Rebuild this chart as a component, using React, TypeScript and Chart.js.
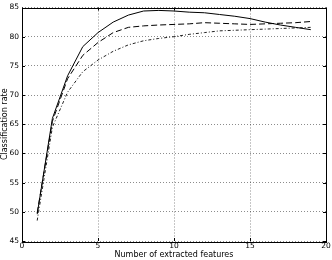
import { useEffect, useRef } from "react";
import { Chart, registerables } from "chart.js";

Chart.register(...registerables);

const features = [1, 2, 3, 4, 5, 6, 7, 8, 9, 10, 11, 12, 13, 14, 15, 16, 17, 18, 19];
const solidRates = [49.6, 66, 73.3, 78.3, 80.7, 82.5, 83.7, 84.4, 84.5, 84.4, 84.2, 84.1, 83.8, 83.5, 83.1, 82.5, 82.0, 81.6, 81.2];
const dashedRates = [49.8, 65.5, 72.8, 76.8, 79.0, 80.7, 81.6, 81.85, 82.0, 82.1, 82.2, 82.4, 82.3, 82.2, 82.1, 82.2, 82.3, 82.4, 82.6];
const dashDotRates = [48.5, 64.5, 70.5, 74, 76, 77.5, 78.6, 79.3, 79.7, 80.0, 80.4, 80.7, 81.0, 81.1, 81.2, 81.3, 81.4, 81.5, 81.6];

const xAxisTitle = "Number of extracted features";
const yAxisTitle = "Classification rate";

const FONT = "'DejaVu Sans', sans-serif";

const framePlugin = {
  id: "frame",
  afterDraw(chart: any) {
    const { ctx, chartArea } = chart;
    const { left, right, top, bottom } = chartArea;
    ctx.save();
    ctx.strokeStyle = "#000";
    ctx.lineWidth = 1;
    ctx.setLineDash([]);
    ctx.strokeRect(Math.round(left) + 0.5, Math.round(top) + 0.5, Math.round(right - left), Math.round(bottom - top));
    const xs = chart.scales.x;
    const ys = chart.scales.y;
    const len = 3;
    ctx.beginPath();
    xs.ticks.forEach((t: any) => {
      const px = Math.round(xs.getPixelForValue(t.value)) + 0.5;
      ctx.moveTo(px, bottom);
      ctx.lineTo(px, bottom - len);
      ctx.moveTo(px, top);
      ctx.lineTo(px, top + len);
    });
    ys.ticks.forEach((t: any) => {
      const py = Math.round(ys.getPixelForValue(t.value)) + 0.5;
      ctx.moveTo(left, py);
      ctx.lineTo(left + len, py);
      ctx.moveTo(right, py);
      ctx.lineTo(right - len, py);
    });
    ctx.stroke();
    ctx.restore();
  },
};

export default function App() {
  const ref = useRef<HTMLCanvasElement | null>(null);

  useEffect(() => {
    if (!ref.current) return;
    const mk = (data: number[]) => features.map((f, i) => ({ x: f, y: data[i] }));
    const chart = new Chart(ref.current, {
      type: "line",
      data: {
        datasets: [
          { data: mk(solidRates), borderColor: "#000", borderWidth: 1, pointRadius: 0, fill: false, tension: 0 },
          { data: mk(dashedRates), borderColor: "#000", borderWidth: 1, borderDash: [6, 3], pointRadius: 0, fill: false, tension: 0 },
          { data: mk(dashDotRates), borderColor: "#222", borderWidth: 1, borderDash: [3, 2, 1, 2], pointRadius: 0, fill: false, tension: 0 },
        ],
      },
      options: {
        animation: false,
        responsive: false,
        maintainAspectRatio: false,
        layout: { padding: { top: 4, right: 6, left: 0, bottom: 0 } },
        plugins: { legend: { display: false }, tooltip: { enabled: false } },
        scales: {
          x: {
            type: "linear",
            min: 0,
            max: 20,
            ticks: { stepSize: 5, color: "#000", font: { family: FONT, size: 7.5 }, padding: 1, maxRotation: 0 },
            grid: { color: "rgba(0,0,0,0.45)", lineWidth: 1, drawTicks: false },
            border: { display: false, dash: [1, 2] },
            title: { display: true, text: xAxisTitle, color: "#000", font: { family: FONT, size: 8 }, padding: 0 },
            afterFit(scale: any) {
              scale.height = 19;
            },
          },
          y: {
            min: 45,
            max: 85,
            ticks: { stepSize: 5, color: "#000", font: { family: FONT, size: 7.5 }, padding: 3 },
            grid: { color: "rgba(0,0,0,0.45)", lineWidth: 1, drawTicks: false },
            border: { display: false, dash: [1, 2] },
            title: { display: true, text: yAxisTitle, color: "#000", font: { family: FONT, size: 8 }, padding: 0 },
            afterFit(scale: any) {
              scale.width = 22;
            },
          },
        },
      },
      plugins: [framePlugin],
    });
    return () => chart.destroy();
  }, []);

  return (
    <div style={{ position: "absolute", left: 0, top: 0, width: 332, height: 260, background: "#fff" }}>
      <canvas ref={ref} width={332} height={260} style={{ width: 332, height: 260 }} />
    </div>
  );
}
